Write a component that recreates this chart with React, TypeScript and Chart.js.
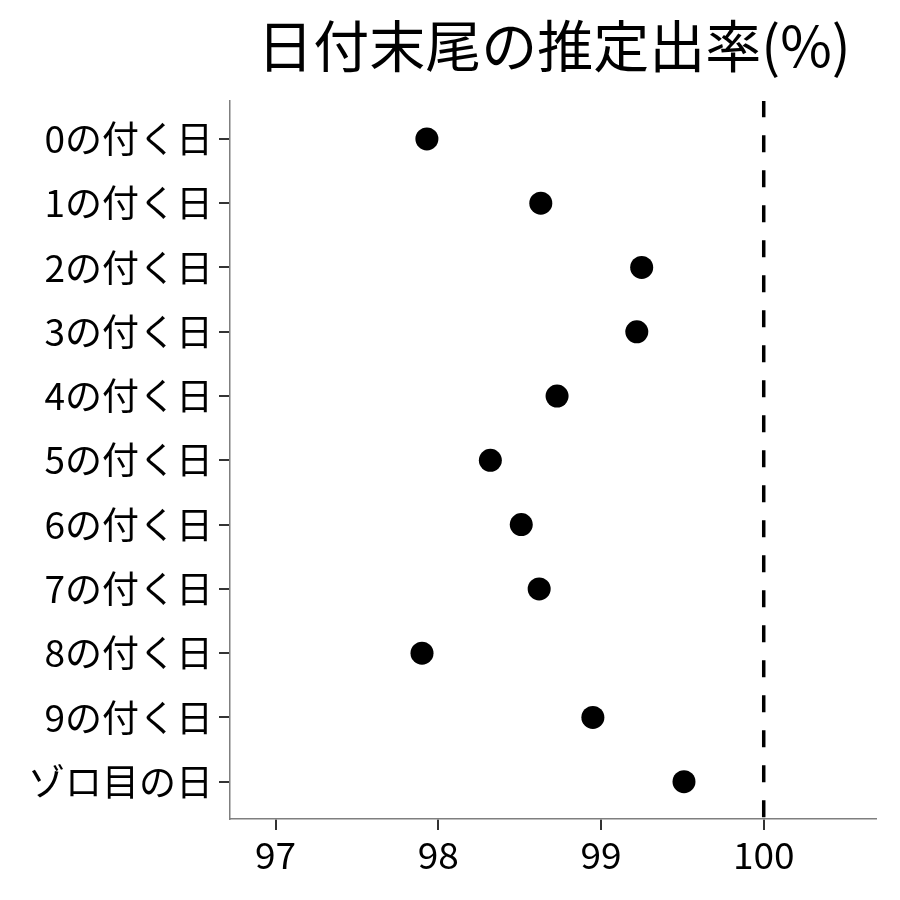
import { useEffect, useRef } from 'react';
import { Chart } from 'chart.js/auto';

// 日付末尾ごとの推定出率
const categories = [
  '0の付く日', '1の付く日', '2の付く日', '3の付く日', '4の付く日', '5の付く日',
  '6の付く日', '7の付く日', '8の付く日', '9の付く日', 'ゾロ目の日',
];
const rates = [97.93, 98.63, 99.25, 99.22, 98.73, 98.32, 98.51, 98.62, 97.9, 98.95, 99.51];
const xTicks = [97, 98, 99, 100];
const refLine = 100;
const title = '日付末尾の推定出率(%)';

const FONT = '"Noto Sans CJK JP", "Noto Sans", sans-serif';

const titlePlugin = {
  id: 'plotTitle',
  afterDraw(chart: Chart) {
    const { ctx, chartArea } = chart;
    ctx.save();
    ctx.fillStyle = '#000';
    ctx.font = `56px ${FONT}`;
    ctx.textAlign = 'center';
    ctx.textBaseline = 'middle';
    ctx.fillText(title, (chartArea.left + chartArea.right) / 2 + 1, 46);
    ctx.restore();
  },
};

function App() {
  const chartRef = useRef<HTMLCanvasElement>(null);
  const chartInstance = useRef<Chart | null>(null);

  useEffect(() => {
    if (!chartRef.current) return;
    const ctx = chartRef.current.getContext('2d');
    if (!ctx) return;
    if (chartInstance.current) chartInstance.current.destroy();

    const last = categories.length - 1;

    chartInstance.current = new Chart(ctx, {
      type: 'scatter',
      data: {
        datasets: [
          {
            label: '推定出率',
            data: rates.map((v, i) => ({ x: v, y: i })),
            backgroundColor: '#000',
            borderColor: '#000',
            pointRadius: 11.5,
            pointHoverRadius: 11.5,
            borderWidth: 0,
          },
          {
            label: '100%',
            data: [
              { x: refLine, y: -0.6 },
              { x: refLine, y: last + 0.6 },
            ],
            showLine: true,
            borderColor: '#000',
            borderWidth: 3.5,
            borderDash: [17, 18],
            pointRadius: 0,
          },
        ],
      },
      options: {
        animation: false,
        responsive: true,
        maintainAspectRatio: false,
        layout: { padding: { top: 101, right: 24, left: 0, bottom: 0 } },
        plugins: {
          legend: { display: false },
          title: { display: false },
          tooltip: { enabled: false },
        },
        scales: {
          x: {
            type: 'linear',
            min: 96.72,
            max: 100.69,
            afterBuildTicks: (scale) => {
              scale.ticks = xTicks.map((v) => ({ value: v }));
            },
            afterFit: (scale) => {
              scale.height = 81;
            },
            grid: {
              drawOnChartArea: false,
              drawTicks: true,
              tickLength: 11,
              color: '#333',
              lineWidth: 2,
            },
            border: { display: true, color: '#7f7f7f', width: 1.5 },
            ticks: {
              color: '#000',
              padding: 3,
              font: { size: 37, family: FONT },
              callback: (v) => String(v),
            },
          },
          y: {
            type: 'linear',
            reverse: true,
            min: -0.59,
            max: last + 0.58,
            afterBuildTicks: (scale) => {
              scale.ticks = categories.map((_, i) => ({ value: i }));
            },
            afterFit: (scale) => {
              scale.width = 230;
            },
            grid: {
              drawOnChartArea: false,
              drawTicks: true,
              tickLength: 11,
              color: '#333',
              lineWidth: 2,
            },
            border: { display: true, color: '#7f7f7f', width: 1.5 },
            ticks: {
              color: '#000',
              padding: 6,
              font: { size: 37, family: FONT },
              callback: (v) => categories[Number(v)] ?? '',
            },
          },
        },
      },
      plugins: [titlePlugin],
    });

    return () => {
      if (chartInstance.current) {
        chartInstance.current.destroy();
        chartInstance.current = null;
      }
    };
  }, []);

  return (
    <div style={{ position: 'fixed', top: 0, left: 0, width: 900, height: 900, background: '#fff' }}>
      <canvas ref={chartRef}></canvas>
    </div>
  );
}

export default App;
